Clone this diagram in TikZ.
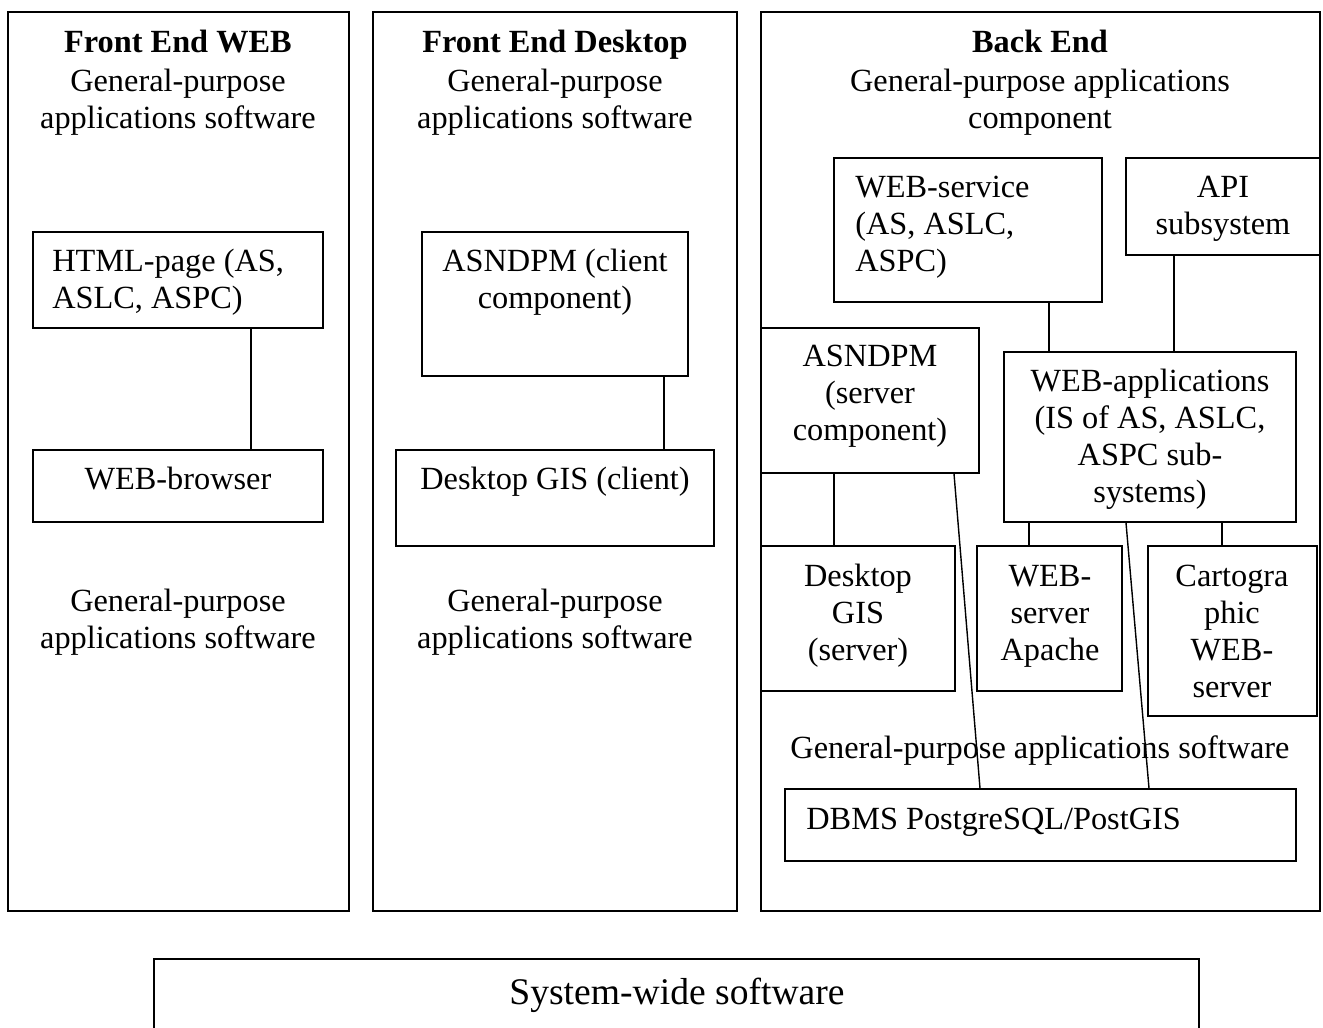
\documentclass[tikz,border=0pt]{standalone}
\usepackage{fontspec}
\setmainfont{Liberation Serif}
\usetikzlibrary{fit}
\newcommand\gpfont{\fontsize{18.4}{21}\selectfont}
\newcommand\sysfont{\fontsize{21.4}{25}\selectfont}
\tikzset{
  box/.style={draw, line width=0.9pt, inner sep=0pt},
  txt/.style={inner sep=0pt, font=\gpfont, anchor=base, align=center},
  ltxt/.style={inner sep=0pt, font=\gpfont, anchor=base west, align=left},
  ttl/.style={inner sep=0pt, font=\gpfont\bfseries, anchor=base},
  link/.style={line width=0.8pt},
}
\begin{document}
% multi-line text nodes are placed by the baseline of their last line
\begin{tikzpicture}[x=0.02cm, y=-0.02cm]
\clip (0,0) rectangle (1323,1028);
% panels
\node[box, fit={(8,12)(349,911)}] (pweb) {};
\node[box, fit={(373,12)(737,911)}] (pdesk) {};
\node[box, fit={(761,12)(1320,911)}] (pback) {};
\node[box, fit={(154,959)(1199,1060)}] (sys) {};
% Front End WEB
\node[ttl] (t1) at (178,52) {Front End WEB};
\node[txt] (g1) at (178,128) {General-purpose\\applications software};
\node[box, fit={(33,232)(323,328)}] (html) {};
\node[ltxt] (thtml) at (52,308) {HTML-page (AS,\\ASLC, ASPC)};
\node[box, fit={(33,450)(323,522)}] (browser) {};
\node[txt] (tbrowser) at (178,489) {WEB-browser};
\node[txt] (g1b) at (178,648) {General-purpose\\applications software};
% Front End Desktop
\node[ttl] (t2) at (555,52) {Front End Desktop};
\node[txt] (g2) at (555,128) {General-purpose\\applications software};
\node[box, fit={(422,232)(688,376)}] (asnc) {};
\node[txt] (tasnc) at (555,308) {ASNDPM (client\\component)};
\node[box, fit={(396,450)(714,546)}] (gisc) {};
\node[txt] (tgisc) at (555,489) {Desktop GIS (client)};
\node[txt] (g2b) at (555,648) {General-purpose\\applications software};
% Back End
\node[ttl] (t3) at (1040,52) {Back End};
\node[txt] (g3) at (1040,128) {General-purpose applications\\component};
\node[box, fit={(834,158)(1102,302)}] (wsvc) {};
\node[ltxt] (twsvc) at (855,271) {WEB-service\\(AS, ASLC,\\ASPC)};
\node[box, fit={(1126,158)(1320,255)}] (api) {};
\node[txt] (tapi) at (1223,234) {API\\subsystem};
\node[box, fit={(761,328)(979,473)}] (asns) {};
\node[txt] (tasns) at (870,440) {ASNDPM\\(server\\component)};
\node[box, fit={(1004,352)(1296,522)}] (webapp) {};
\node[txt] (twebapp) at (1150,502) {WEB-applications\\(IS of AS, ASLC,\\ASPC sub-\\systems)};
\node[box, fit={(761,546)(955,691)}] (giss) {};
\node[txt] (tgiss) at (858,660) {Desktop\\GIS\\(server)};
\node[box, fit={(977,546)(1122,691)}] (apache) {};
\node[txt] (tapache) at (1050,660) {WEB-\\server\\Apache};
\node[box, fit={(1148,546)(1317,716)}] (carto) {};
\node[txt] (tcarto) at (1232,697) {Cartogra\\phic\\WEB-\\server};
\node[txt] (g3b) at (1040,758) {General-purpose applications software};
\node[box, fit={(785,789)(1296,861)}] (dbms) {};
\node[ltxt] (tdbms) at (806,829) {DBMS PostgreSQL/PostGIS};
% System-wide
\node[inner sep=0pt, font=\sysfont, anchor=base] (tsys) at (677,1004) {System-wide software};
% connectors
\draw[link] (html.south -| 251,0) -- (browser.north -| 251,0);
\draw[link] (asnc.south -| 664,0) -- (gisc.north -| 664,0);
\draw[link] (wsvc.south -| 1049,0) -- (webapp.north -| 1049,0);
\draw[link] (api.south -| 1174,0) -- (webapp.north -| 1174,0);
\draw[link] (asns.south -| 834,0) -- (giss.north -| 834,0);
\draw[link] (webapp.south -| 1029,0) -- (apache.north -| 1029,0);
\draw[link] (webapp.south -| 1222,0) -- (carto.north -| 1222,0);
\draw[link] (asns.south -| 954,0) -- (dbms.north -| 980,0);
\draw[link] (webapp.south -| 1126,0) -- (dbms.north -| 1149,0);
\end{tikzpicture}
\end{document}
